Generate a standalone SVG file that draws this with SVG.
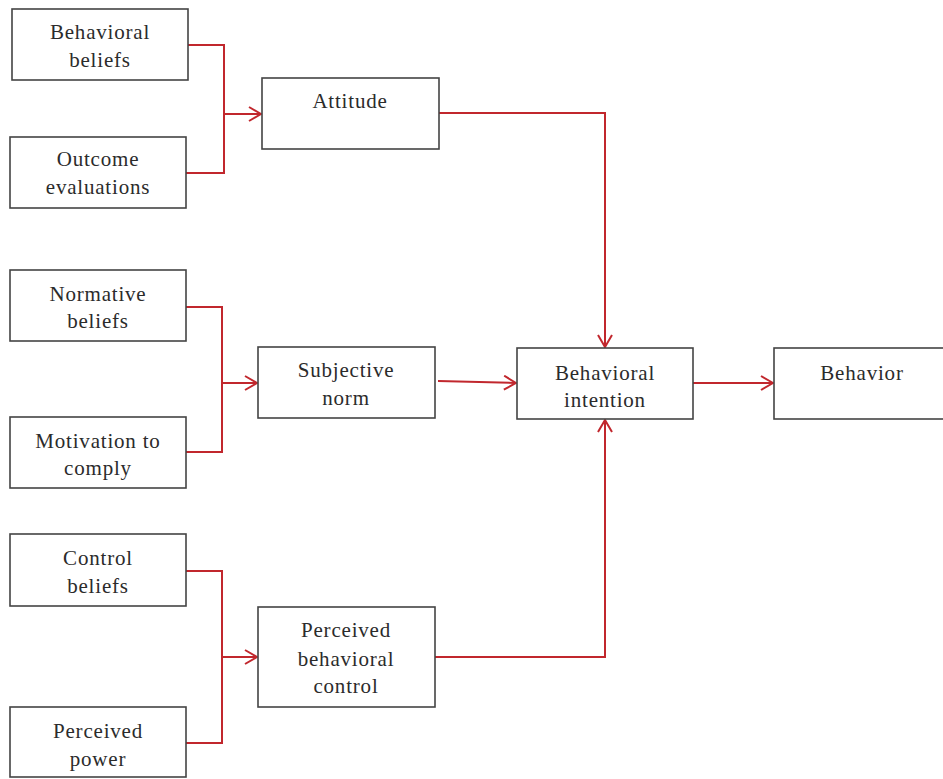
<svg xmlns="http://www.w3.org/2000/svg" width="943" height="779" viewBox="0 0 943 779">
<style>
.box{fill:#fff;stroke:#444;stroke-width:1.6}
.t{font-family:"Liberation Serif","DejaVu Serif",serif;font-size:21px;letter-spacing:0.8px;fill:#2b2b2b;text-anchor:middle}
.c{fill:none;stroke:#c1272d;stroke-width:2}
</style>
<defs>
<marker id="ah" viewBox="0 0 14 16" refX="13" refY="8" markerWidth="14" markerHeight="16" markerUnits="userSpaceOnUse" orient="auto">
<path d="M1,1 L13,8 L1,15" fill="none" stroke="#c1272d" stroke-width="2"/>
</marker>
</defs>
<rect width="943" height="779" fill="#fff"/>
<g id="connectors">
<path class="c" d="M188,45 H224 V173 H186"/>
<path class="c" d="M224,114 H261" marker-end="url(#ah)"/>
<path class="c" d="M186,307 H222 V452 H186"/>
<path class="c" d="M222,383 H257" marker-end="url(#ah)"/>
<path class="c" d="M186,571 H222 V743 H186"/>
<path class="c" d="M222,657 H257" marker-end="url(#ah)"/>
<path class="c" d="M439,113 H605 V347" marker-end="url(#ah)"/>
<path class="c" d="M438,381 L516,383" marker-end="url(#ah)"/>
<path class="c" d="M435,657 H605 V420" marker-end="url(#ah)"/>
<path class="c" d="M693,383 H773" marker-end="url(#ah)"/>
</g>
<g id="behavioral-beliefs"><rect class="box" x="12" y="9" width="176" height="71"/><text class="t" x="100" y="39">Behavioral</text><text class="t" x="100" y="67">beliefs</text></g>
<g id="outcome-evaluations"><rect class="box" x="10" y="137" width="176" height="71"/><text class="t" x="98" y="166">Outcome</text><text class="t" x="98" y="194">evaluations</text></g>
<g id="attitude"><rect class="box" x="262" y="78" width="177" height="71"/><text class="t" x="350" y="108">Attitude</text></g>
<g id="normative-beliefs"><rect class="box" x="10" y="270" width="176" height="71"/><text class="t" x="98" y="301">Normative</text><text class="t" x="98" y="328">beliefs</text></g>
<g id="motivation-to-comply"><rect class="box" x="10" y="417" width="176" height="71"/><text class="t" x="98" y="448">Motivation to</text><text class="t" x="98" y="475">comply</text></g>
<g id="subjective-norm"><rect class="box" x="258" y="347" width="177" height="71"/><text class="t" x="346" y="377">Subjective</text><text class="t" x="346" y="405">norm</text></g>
<g id="behavioral-intention"><rect class="box" x="517" y="348" width="176" height="71"/><text class="t" x="605" y="380">Behavioral</text><text class="t" x="605" y="407">intention</text></g>
<g id="behavior"><rect class="box" x="774" y="348" width="175" height="71"/><text class="t" x="862" y="380">Behavior</text></g>
<g id="control-beliefs"><rect class="box" x="10" y="534" width="176" height="72"/><text class="t" x="98" y="565">Control</text><text class="t" x="98" y="593">beliefs</text></g>
<g id="perceived-power"><rect class="box" x="10" y="707" width="176" height="70"/><text class="t" x="98" y="738">Perceived</text><text class="t" x="98" y="766">power</text></g>
<g id="perceived-behavioral-control"><rect class="box" x="258" y="607" width="177" height="100"/><text class="t" x="346" y="637">Perceived</text><text class="t" x="346" y="666">behavioral</text><text class="t" x="346" y="693">control</text></g>
</svg>
